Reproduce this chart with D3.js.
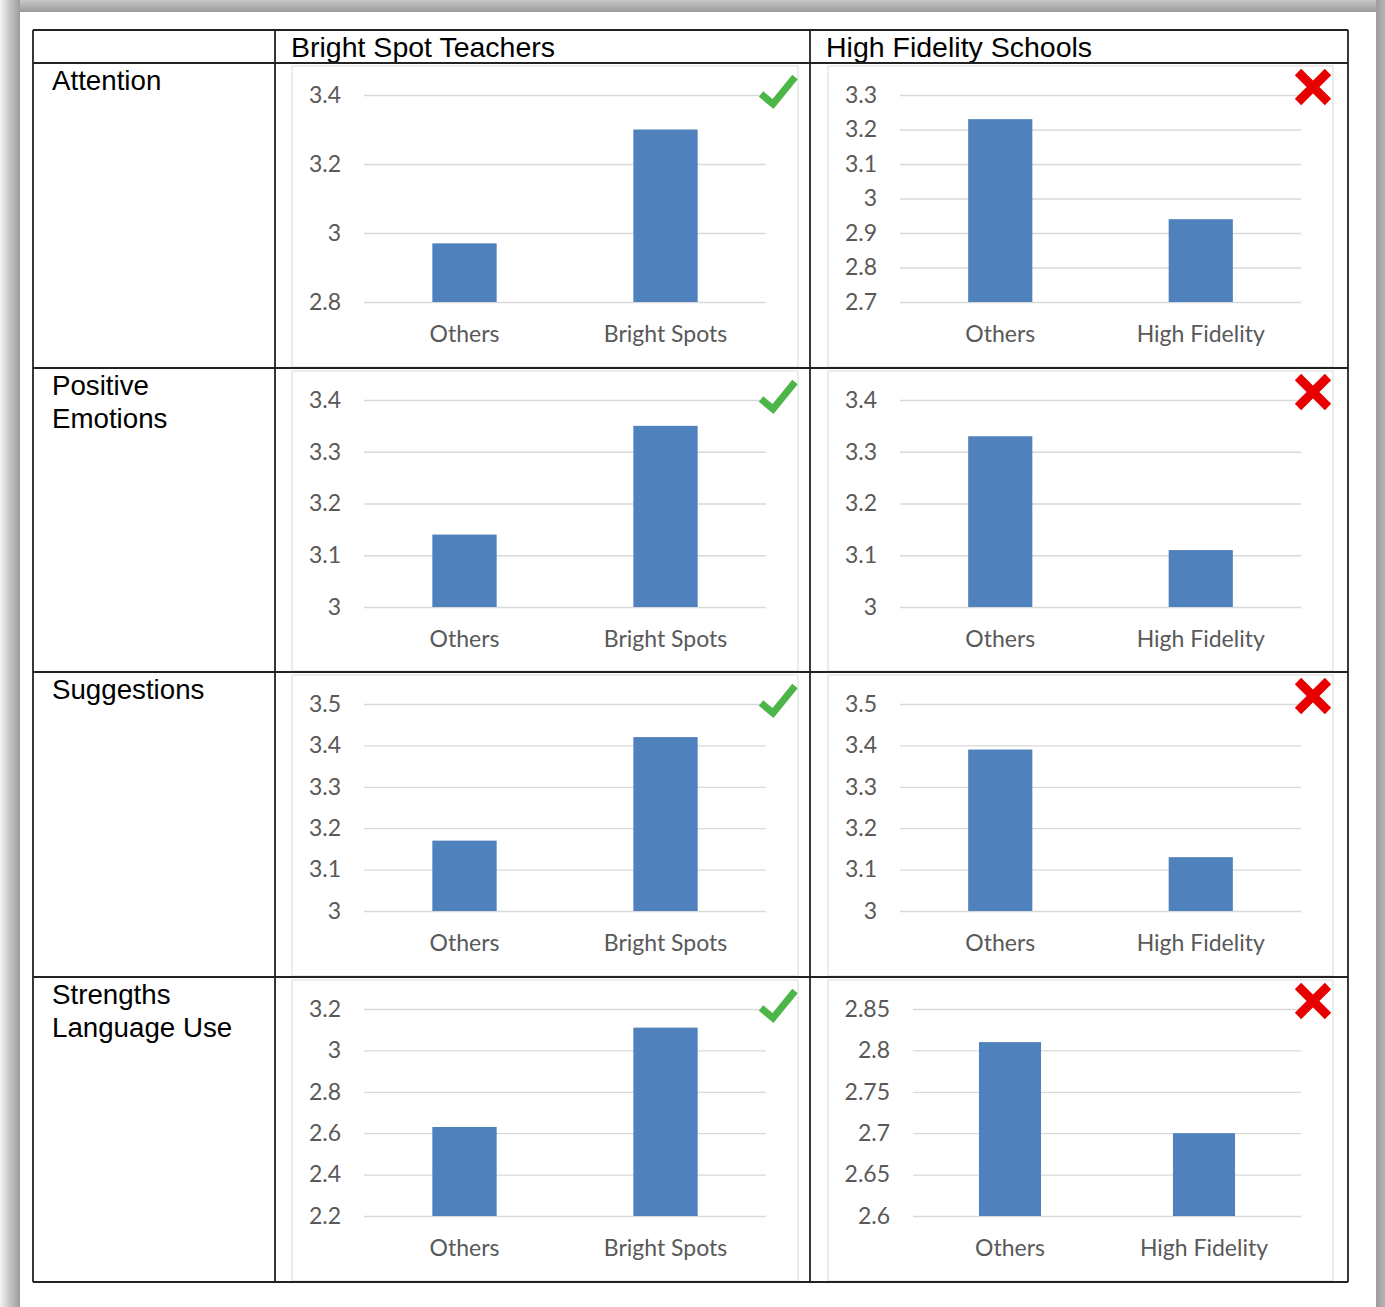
<!DOCTYPE html>
<html>
<head>
<meta charset="utf-8">
<script src="https://cdn.jsdelivr.net/npm/d3@7"></script>
<style>
  html, body { margin: 0; padding: 0; background: #fff; }
  svg { display: block; }
</style>
</head>
<body>
<svg id="page" width="1385" height="1307"></svg>
<script>
const columnTitles = ['Bright Spot Teachers', 'High Fidelity Schools']
const rowLabels = [['Attention'], ['Positive', 'Emotions'], ['Suggestions'], ['Strengths', 'Language Use']]
const brightCategories = ['Others', 'Bright Spots']
const fidelityCategories = ['Others', 'High Fidelity']
const brightValues = [[2.97, 3.30], [3.14, 3.35], [3.17, 3.42], [2.63, 3.11]]
const fidelityValues = [[3.23, 2.94], [3.33, 3.11], [3.39, 3.13], [2.81, 2.70]]
const brightTicks = [
    [2.8, 3, 3.2, 3.4],
    [3, 3.1, 3.2, 3.3, 3.4],
    [3, 3.1, 3.2, 3.3, 3.4, 3.5],
    [2.2, 2.4, 2.6, 2.8, 3, 3.2]
]
const fidelityTicks = [
    [2.7, 2.8, 2.9, 3, 3.1, 3.2, 3.3],
    [3, 3.1, 3.2, 3.3, 3.4],
    [3, 3.1, 3.2, 3.3, 3.4, 3.5],
    [2.6, 2.65, 2.7, 2.75, 2.8, 2.85]
]
const verdicts = ['check', 'cross']

const svg = d3.select('#page')
const W = 1385, H = 1307

// page shadow around the white sheet
const defs = svg.append('defs')
const grad = (id, x1, y1, x2, y2, stops) => {
    const g = defs.append('linearGradient').attr('id', id)
        .attr('x1', x1).attr('y1', y1).attr('x2', x2).attr('y2', y2)
    stops.forEach(([o, c]) => g.append('stop').attr('offset', o).attr('stop-color', c))
}
grad('gLeft', 0, 0, 1, 0, [[0, '#f4f4f4'], [0.5, '#c4c4c4'], [1, '#9c9c9c']])
grad('gTop', 0, 0, 0, 1, [[0, '#c8c8c8'], [1, '#9a9a9a']])
grad('gRight', 0, 0, 1, 0, [[0, '#9c9c9c'], [1, '#b4b4b4']])
svg.append('rect').attr('width', W).attr('height', H).attr('fill', '#fff')
svg.append('rect').attr('x', 0).attr('y', 0).attr('width', 20).attr('height', H).attr('fill', 'url(#gLeft)')
svg.append('rect').attr('x', 20).attr('y', 0).attr('width', 1356).attr('height', 12).attr('fill', 'url(#gTop)')
svg.append('rect').attr('x', 1376).attr('y', 0).attr('width', 9).attr('height', H).attr('fill', 'url(#gRight)')

const colX = [33, 275, 810, 1348]
const rowY = [30, 63, 368, 672, 977, 1282]
const frames = [[292, 798], [828, 1333]]
const tickFont = 'Lato, "Open Sans", sans-serif'
const tickSize = 23
const cellFont = '"Liberation Sans", Arial, sans-serif'

// table text
const table = svg.append('g')
columnTitles.forEach((t, i) => {
    table.append('text').attr('x', colX[i + 1] + 16).attr('y', 57)
        .attr('font-family', cellFont).attr('font-size', 28.5).attr('fill', '#000').text(t)
})
rowLabels.forEach((lines, r) => {
    lines.forEach((t, k) => {
        table.append('text').attr('x', 52).attr('y', rowY[r + 1] + 27 + k * 33)
            .attr('font-family', cellFont).attr('font-size', 27.7).attr('fill', '#000').text(t)
    })
})

const measure = svg.append('text').attr('font-family', tickFont).attr('font-size', tickSize)
const textWidth = (s) => { measure.text(s); return measure.node().getComputedTextLength() }

const drawChart = (col, row) => {
    const values = col === 0 ? brightValues[row] : fidelityValues[row]
    const ticks = col === 0 ? brightTicks[row] : fidelityTicks[row]
    const cats = col === 0 ? brightCategories : fidelityCategories
    const [fl, fr] = frames[col]
    const ft = rowY[row + 1] + 3
    const fb = rowY[row + 2] - 1

    const g = svg.append('g')
    g.append('rect').attr('x', fl).attr('y', ft).attr('width', fr - fl).attr('height', fb - ft)
        .attr('fill', '#fff').attr('stroke', '#d9d9d9').attr('stroke-width', 1)

    const maxW = d3.max(ticks, (t) => textWidth(String(t)))
    const left = Math.round(fl + 17 + maxW + 23)
    const right = fr - 32
    const top = ft + 29
    const bottom = ft + 236

    const y = d3.scaleLinear().domain(d3.extent(ticks)).range([bottom, top])
    const x = d3.scaleBand().domain(cats).range([left, right]).paddingInner(0.68).paddingOuter(0.34)

    const yAxis = g.append('g').attr('transform', `translate(${ left },0)`)
        .call(d3.axisLeft(y).tickValues(ticks).tickSize(-(right - left)).tickPadding(23).tickFormat(String))
    yAxis.select('.domain').remove()
    yAxis.selectAll('line').attr('stroke', '#d9d9d9').attr('stroke-width', 1.3)
    yAxis.selectAll('text').attr('font-family', tickFont).attr('font-size', tickSize).attr('fill', '#595959')

    g.selectAll('rect.bar').data(values).join('rect').attr('class', 'bar')
        .attr('x', (d, i) => x(cats[i])).attr('width', x.bandwidth())
        .attr('y', (d) => y(d)).attr('height', (d) => bottom - y(d))
        .attr('fill', '#4f81bd')

    const xAxis = g.append('g').attr('transform', `translate(0,${ bottom })`)
        .call(d3.axisBottom(x).tickSize(0).tickPadding(24))
    xAxis.select('.domain').remove()
    xAxis.selectAll('text').attr('font-family', tickFont).attr('font-size', tickSize).attr('fill', '#595959')

    if (verdicts[col] === 'check') {
        g.append('path').attr('d', `M${ fr - 37 },${ ft + 28 } L${ fr - 25 },${ ft + 38 } L${ fr - 3 },${ ft + 11 }`)
            .attr('fill', 'none').attr('stroke', '#4cb648').attr('stroke-width', 7)
            .attr('stroke-linejoin', 'miter').attr('stroke-linecap', 'butt')
    } else {
        const cx = fr - 20, cy = ft + 21, a = 15
        g.append('path').attr('d', `M${ cx - a },${ cy - a } L${ cx + a },${ cy + a } M${ cx + a },${ cy - a } L${ cx - a },${ cy + a }`)
            .attr('fill', 'none').attr('stroke', '#e60000').attr('stroke-width', 9)
    }
}

for (let r = 0; r < 4; r++) {
    drawChart(0, r)
    drawChart(1, r)
}
measure.remove()

// table grid lines on top
const lines = svg.append('g').attr('stroke', '#222').attr('stroke-width', 1.8)
rowY.forEach((yy) => lines.append('line').attr('x1', colX[0]).attr('x2', colX[3]).attr('y1', yy).attr('y2', yy))
colX.forEach((xx, i) => lines.append('line').attr('x1', xx).attr('x2', xx)
    .attr('y1', rowY[0]).attr('y2', rowY[rowY.length - 1]))
</script>
</body>
</html>
